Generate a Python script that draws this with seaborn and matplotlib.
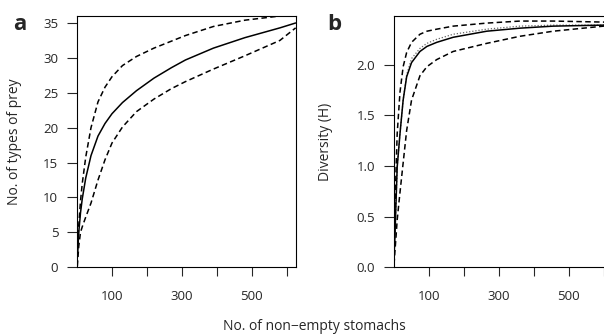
import numpy as np
import pandas as pd
import matplotlib
matplotlib.use("Agg")
import matplotlib.pyplot as plt
import seaborn as sns

# ---------------- data ----------------
# panel a: number of prey types vs stomachs sampled
stomachs_a = [1, 5, 10, 15, 25, 40, 60, 80, 100, 130, 170, 220, 270, 310, 390, 480, 580, 625]
prey_mean = [1.5, 5.0, 7.8, 9.8, 12.8, 16.0, 18.8, 20.6, 22.0, 23.6, 25.3, 27.1, 28.6, 29.7, 31.4, 32.9, 34.3, 35]
prey_upper = [2, 6.0, 9.5, 12.0, 15.8, 20.0, 23.7, 25.8, 27.3, 28.9, 30.2, 31.4, 32.4, 33.2, 34.5, 35.4, 36, 36]
prey_lower = [0.2, 3, 5.0, 5.8, 7.2, 9.2, 12.5, 15.4, 17.8, 20.1, 22.3, 24.1, 25.6, 26.6, 28.4, 30.3, 32.5, 34.3]

# panel b: diversity (H) vs stomachs sampled
stomachs_b = [1, 4, 7, 10, 18, 27, 37, 51, 75, 95, 123, 170, 266, 361, 456, 600, 625]
div_mean = [0.1, 0.36, 0.68, 0.99, 1.32, 1.65, 1.88, 2.02, 2.13, 2.18, 2.22, 2.27, 2.33, 2.36, 2.38, 2.39, 2.39]
div_upper = [0.15, 0.6, 1.0, 1.32, 1.73, 1.98, 2.12, 2.22, 2.30, 2.33, 2.35, 2.38, 2.41, 2.43, 2.43, 2.42, 2.41]
div_lower = [0.03, 0.18, 0.32, 0.47, 0.74, 1.03, 1.35, 1.65, 1.89, 1.98, 2.05, 2.13, 2.21, 2.28, 2.33, 2.38, 2.38]
div_dotted = [0.1, 0.36, 0.68, 0.99, 1.32, 1.65, 1.9, 2.06, 2.16, 2.21, 2.25, 2.30, 2.35, 2.38, 2.39, 2.39, 2.39]

x_ticks = [100, 200, 300, 400, 500, 600]
x_ticklabels = ["100", "", "300", "", "500", ""]
prey_ticks = [0, 5, 10, 15, 20, 25, 30, 35]
div_ticks = [0.0, 0.5, 1.0, 1.5, 2.0]

# ---------------- style ----------------
sns.set_style("ticks")
plt.rcParams["font.family"] = ["Open Sans", "DejaVu Sans"]
plt.rcParams["font.size"] = 9.5

fig = plt.figure(figsize=(6.04, 3.34), dpi=100)

ax_a = fig.add_axes([77 / 604, 66.7 / 334, 219 / 604, 251.3 / 334])
ax_b = fig.add_axes([393.7 / 604, 66.7 / 334, 219 / 604, 251.3 / 334])

dash = (3.6, 2.2)

# ---------------- panel a ----------------
sns.lineplot(x=stomachs_a, y=prey_mean, ax=ax_a, color="black", lw=1.1, estimator=None)
sns.lineplot(x=stomachs_a, y=prey_upper, ax=ax_a, color="black", lw=1.1,
             estimator=None, linestyle=(0, dash))
sns.lineplot(x=stomachs_a, y=prey_lower, ax=ax_a, color="black", lw=1.1,
             estimator=None, linestyle=(0, dash))

ax_a.set_xlim(0, 626)
ax_a.set_ylim(0, 36)
ax_a.set_yticks(prey_ticks)
ax_a.set_ylabel("No. of types of prey", fontsize=10)
ax_a.yaxis.set_label_coords(-0.25, 0.5)

# ---------------- panel b ----------------
sns.lineplot(x=stomachs_b, y=div_dotted, ax=ax_b, color="#666666", lw=0.9,
             estimator=None, linestyle=(0, (1, 1.5)))
sns.lineplot(x=stomachs_b, y=div_mean, ax=ax_b, color="black", lw=1.1, estimator=None)
sns.lineplot(x=stomachs_b, y=div_upper, ax=ax_b, color="black", lw=1.1,
             estimator=None, linestyle=(0, dash))
sns.lineplot(x=stomachs_b, y=div_lower, ax=ax_b, color="black", lw=1.1,
             estimator=None, linestyle=(0, dash))

ax_b.set_xlim(0, 626)
ax_b.set_ylim(0, 2.48)
ax_b.set_yticks(div_ticks)
ax_b.set_yticklabels([f"{v:.1f}" for v in div_ticks])
ax_b.set_ylabel("Diversity (H)", fontsize=10)
ax_b.yaxis.set_label_coords(-0.277, 0.5)

for ax in (ax_a, ax_b):
    ax.set_xticks(x_ticks)
    ax.set_xticklabels(x_ticklabels)
    ax.set_xlabel("")
    ax.tick_params(axis="x", length=6.5, width=0.8, pad=10, labelsize=9.5)
    ax.tick_params(axis="y", length=7, width=0.8, pad=6.5, labelsize=9.5)
    for side in ["top", "right", "left", "bottom"]:
        ax.spines[side].set_visible(True)
        ax.spines[side].set_linewidth(0.8)
        ax.spines[side].set_color("black")

# panel letters and shared x label
fig.text(13 / 604, 1 - 30 / 334, "a", fontsize=16, fontweight="bold", va="baseline")
fig.text(327 / 604, 1 - 30 / 334, "b", fontsize=16, fontweight="bold", va="baseline")
fig.text(314.5 / 604, 1 - 319 / 334, "No. of non\u2212empty stomachs",
         ha="center", va="top", fontsize=10)

fig.savefig("out.png", dpi=100)
